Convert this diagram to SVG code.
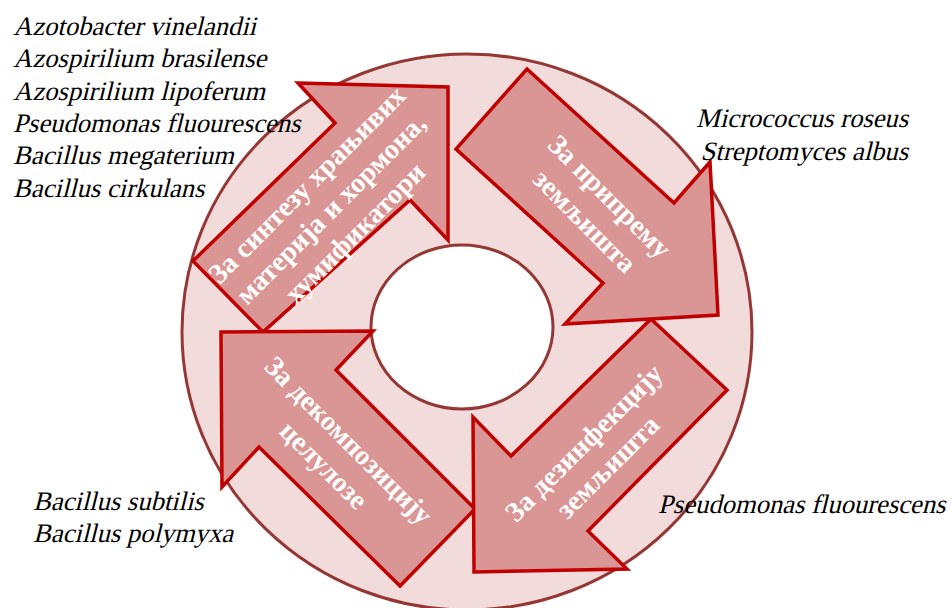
<svg xmlns="http://www.w3.org/2000/svg" width="952" height="608" viewBox="0 0 952 608">
<style>
.ring{fill:#f2dcdb;stroke:#953735;stroke-width:3}
.hole{fill:#ffffff;stroke:#953735;stroke-width:3}
.arrow{fill:#d99694;stroke:#c00000;stroke-width:3.5;stroke-linejoin:miter}
.lbl{font-family:"Liberation Serif",serif;font-weight:bold;font-size:28px;fill:#ffffff;text-anchor:middle}
.sp{font-family:"Liberation Serif",serif;font-size:26.6px;fill:#000000}
</style>
<rect width="952" height="608" fill="#ffffff"/>
<g id="ring">
<ellipse class="ring" cx="467" cy="332" rx="285" ry="278"/>
<ellipse class="hole" cx="462" cy="327" rx="91" ry="82"/>
</g>
<g id="connectors"></g>
<g id="arrow-synthesis">
<polygon class="arrow" points="298,83 448,87 448,240 410,200 263,332 193,261 335,123"/>
<g transform="translate(331,209) rotate(-45)">
<text class="lbl" x="0" y="-25">За синтезу храњивих</text>
<text class="lbl" x="0" y="9">материја и хормона,</text>
<text class="lbl" x="0" y="43">хумификатори</text>
</g>
</g>
<g id="arrow-cellulose">
<polygon class="arrow" points="221,332 373,331 336,370 475,509 400,586 259,447 222,487"/>
<g transform="translate(336,453) rotate(45)">
<text class="lbl" x="0" y="-8.5">За декомпозицију</text>
<text class="lbl" x="0" y="26.5">целулозе</text>
</g>
</g>
<g id="arrow-disinfection">
<polygon class="arrow" points="651,319 727,390 588,531 627,569 474,572 473,417 511,456"/>
<g transform="translate(596,455) rotate(-45)">
<text class="lbl" x="0" y="-8">За дезинфекцију</text>
<text class="lbl" x="0" y="26">земљишта</text>
</g>
</g>
<g id="arrow-preparation">
<polygon class="arrow" points="527,69 674,203 710,162 718,315 565,324 603,283 456,149"/>
<g transform="translate(597,209) rotate(45)">
<text class="lbl" x="0" y="-8.5">За припрему</text>
<text class="lbl" x="0" y="26.5">земљишта</text>
</g>
</g>
<g id="species-synthesis">
<text class="sp" transform="translate(13,35) skewX(-14)">Azotobacter vinelandii</text>
<text class="sp" transform="translate(13,67) skewX(-14)">Azospirilium brasilense</text>
<text class="sp" transform="translate(13,100) skewX(-14)">Azospirilium lipoferum</text>
<text class="sp" transform="translate(13,132) skewX(-14)">Pseudomonas fluourescens</text>
<text class="sp" transform="translate(13,164) skewX(-14)">Bacillus megaterium</text>
<text class="sp" transform="translate(13,197) skewX(-14)">Bacillus cirkulans</text>
</g>
<g id="species-preparation">
<text class="sp" text-anchor="end" transform="translate(908,127) skewX(-14)">Micrococcus roseus</text>
<text class="sp" text-anchor="end" transform="translate(908,160) skewX(-14)">Streptomyces albus</text>
</g>
<g id="species-cellulose">
<text class="sp" transform="translate(33,510) skewX(-14)">Bacillus subtilis</text>
<text class="sp" transform="translate(33,542) skewX(-14)">Bacillus polymyxa</text>
</g>
<g id="species-disinfection">
<text class="sp" transform="translate(658,513) skewX(-14)">Pseudomonas fluourescens</text>
</g>
</svg>
